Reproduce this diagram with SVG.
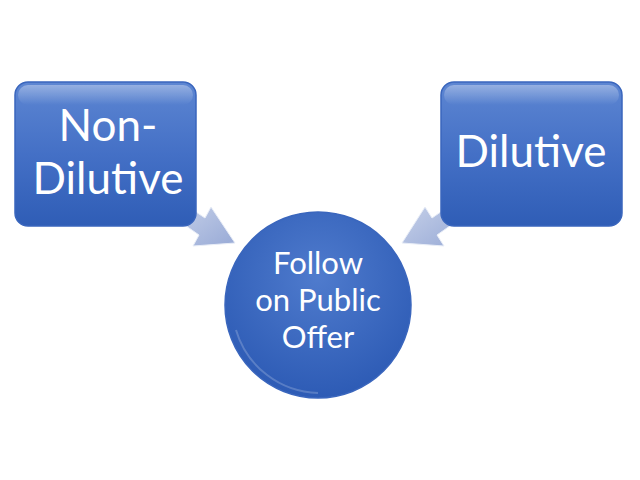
<svg xmlns="http://www.w3.org/2000/svg" width="640" height="480" viewBox="0 0 640 480">
<defs>
<linearGradient id="boxg" x1="0" y1="0" x2="0" y2="1">
<stop offset="0" stop-color="#5d86d2"/>
<stop offset="0.5" stop-color="#4470c6"/>
<stop offset="1" stop-color="#2f5db6"/>
</linearGradient>
<radialGradient id="circg" cx="0.5" cy="0.35" r="0.65">
<stop offset="0" stop-color="#4f7bcd"/>
<stop offset="1" stop-color="#2d5bb5"/>
</radialGradient>
<linearGradient id="arrg" x1="0" y1="0" x2="1" y2="1">
<stop offset="0" stop-color="#c9d3ea"/>
<stop offset="1" stop-color="#98aad6"/>
</linearGradient>
<linearGradient id="hl" x1="0" y1="0" x2="0" y2="1">
<stop offset="0" stop-color="#ffffff" stop-opacity="0.35"/>
<stop offset="1" stop-color="#ffffff" stop-opacity="0"/>
</linearGradient>
</defs>
<style>
.box{fill:url(#boxg);stroke:#3a66bd;stroke-width:1.5}
.edge{fill:none;stroke:#ffffff;stroke-opacity:0.2;stroke-width:2}
.t{font-family:"Lato","Open Sans","Liberation Sans",sans-serif;fill:#ffffff;text-anchor:middle}
.big{font-size:44px}
.mid{font-size:31px}
.arr{fill:url(#arrg);stroke:#e8edf7;stroke-width:1}
</style>
<rect width="640" height="480" fill="#ffffff"/>
<g id="connectors">
<path class="arr" d="M178,200 L205,218 L211,207 L235,243 L193,246 L199,235 L172,216 Z"/>
<path class="arr" d="M458,200 L432,218 L425,207 L402,243 L444,246 L437,235 L464,216 Z"/>
</g>
<g id="node-nondilutive">
<rect class="box" x="15" y="82" width="181" height="144" rx="13"/>
<rect x="18" y="85" width="175" height="20" rx="10" fill="url(#hl)"/>
<text class="t big" x="108" y="141">Non-</text>
<text class="t big" x="108" y="194">Dilutive</text>
</g>
<g id="node-dilutive">
<rect class="box" x="441" y="82" width="181" height="144" rx="13"/>
<rect x="444" y="85" width="175" height="20" rx="10" fill="url(#hl)"/>
<text class="t big" x="531" y="167">Dilutive</text>
</g>
<g id="node-fpo">
<circle cx="318" cy="305" r="93" fill="url(#circg)" stroke="#3a66bd" stroke-width="1.5"/>
<path class="edge" d="M236,330 A88,88 0 0 0 318,393"/>
<text class="t mid" x="318" y="274">Follow</text>
<text class="t mid" x="318" y="311">on Public</text>
<text class="t mid" x="318" y="348">Offer</text>
</g>
</svg>
